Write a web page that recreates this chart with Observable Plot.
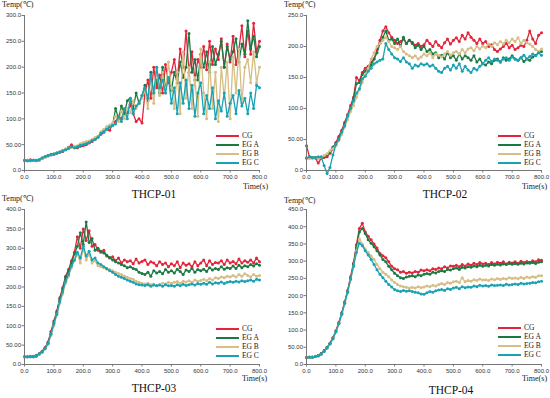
<!DOCTYPE html>
<html><head><meta charset="utf-8">
<script src="https://cdn.jsdelivr.net/npm/d3@7"></script>
<script src="https://cdn.jsdelivr.net/npm/@observablehq/plot@0.6"></script>
<style>
body{margin:0;background:#fff;}
#wrap{position:relative;width:550px;height:398px;overflow:hidden;background:#fff;}
.panel{position:absolute;}
.panel svg{overflow:visible;}
.lbl{position:absolute;font-family:"Liberation Serif","Times New Roman",serif;color:#222;white-space:nowrap;line-height:1;}
.ttl{position:absolute;font-family:"Liberation Serif","Times New Roman",serif;font-size:11.5px;font-weight:normal;color:#111;line-height:1;transform:translateX(-50%);white-space:nowrap;}
.leg{position:absolute;font-family:"Liberation Serif","Times New Roman",serif;font-size:7.5px;color:#222;line-height:1;}
.leg .row{position:absolute;left:0;height:9px;white-space:nowrap;}
.leg .sw{position:absolute;left:0;top:3.5px;width:23px;height:2px;}
.leg .tx{position:absolute;left:26px;top:0.5px;}
</style></head><body><div id="wrap"></div>
<script>
const TIME = d3.range(0, 801, 10);
const SERIES = ["CG", "EG A", "EG B", "EG C"];
const COLORS = ["#e3243b", "#1b7a43", "#d6be84", "#19a2b4"];
const X_TICKS = [0, 100, 200, 300, 400, 500, 600, 700, 800];
const TITLES = ["THCP-01", "THCP-02", "THCP-03", "THCP-04"];
const Y_MAX = [300, 250, 400, 450];

// THCP-01
const THCP01_CG = [20,20,21,20,19,20, 23,26,28,30,31, 33,35,37,40,45, 50,46,44,47,48, 50,53,56,60,65, 70,74,82,78,90, 95,105,100,118,112, 128,110,95,100,92, 150,175,140,200,160, 185,150,205,170,190, 215,175,235,200,270, 190,230,175,215,200, 240,195,250,205,235, 215,255,200,245,210, 260,205,235,280,220, 270,225,285,230,250];
const THCP01_EGA = [20,19,20,20,20,21, 24,26,29,31,32, 34,36,38,41,43, 46,44,45,48,50, 52,55,58,62,66, 72,77,80,85,88, 120,100,125,110,135, 140,120,150,130,145, 165,135,190,150,175, 150,200,160,180,155, 190,170,210,180,200, 265,190,215,175,225, 200,230,190,240,205, 225,250,200,240,215, 230,255,210,245,225, 290,235,260,220,240];
const THCP01_EGB = [20,20,19,20,20,20, 23,25,28,30,32, 34,36,39,42,44, 45,47,48,52,54, 56,57,60,64,66, 75,80,85,88,92, 105,95,115,100,120, 112,135,120,130,140, 155,120,180,130,200, 145,190,150,210,160, 120,190,110,230,140, 200,120,180,105,235, 150,100,210,120,190, 95,200,140,210,100, 220,150,235,130,200, 215,170,230,170,200];
const THCP01_EGC = [20,19,19,20,20,21, 24,27,29,31,32, 34,36,38,40,43, 46,44,46,49,50, 52,54,58,60,64, 72,75,80,84,87, 90,105,95,120,100, 140,110,125,130,145, 160,140,185,150,200, 160,175,150,180,130, 160,110,170,130,175, 120,165,105,150,170, 110,145,120,160,100, 135,115,150,105,130, 145,110,155,125,140, 110,150,120,165,160];

// THCP-02
const THCP02_CG = [40,22,21,20,12,20, 21,22,28,35,45, 55,65,78,90,105, 118,150,145,158,165, 168,175,180,195,210, 225,232,222,215,210, 205,208,212,205,210, 207,202,205,200,203, 210,205,200,208,202, 198,206,212,204,210, 214,208,218,212,222, 215,210,205,212,205, 208,200,203,195,192, 196,200,205,198,202, 195,198,202,200,210, 225,212,205,218,222];
const THCP02_EGA = [20,20,21,21,20,20, 22,25,30,38,43, 52,62,75,88,100, 115,140,142,155,160, 165,170,180,190,205, 215,225,210,212,205, 212,200,215,205,210, 205,198,202,195,200, 192,195,188,190,182, 186,180,190,182,185, 178,188,180,185,182, 178,185,175,180,172, 170,175,172,178,180, 175,182,178,180,185, 180,178,182,176,180, 178,183,186,190,192];
const THCP02_EGB = [20,20,20,21,20,21, 24,27,32,35,40, 48,58,70,82,95, 105,118,130,142,155, 165,180,190,200,205, 210,215,208,200,198, 195,200,192,188,185, 182,185,180,183,188, 185,190,182,188,186, 183,188,192,186,190, 192,188,195,190,196, 198,193,200,196,201, 198,204,200,206,203, 208,204,210,206,212, 208,214,205,210,206, 204,200,195,192,196];
const THCP02_EGC = [20,22,20,21,22,22, 8,-5,5,25,42, 50,62,72,88,100, 112,125,132,148,152, 160,165,172,175,178, 180,205,195,188,182, 180,176,182,175,172, 165,170,168,172,170, 172,168,170,165,160, 158,165,168,162,170, 165,172,160,168,162, 158,165,162,168,172, 178,182,176,180,178, 175,180,182,178,183, 180,178,182,186,180, 184,188,185,190,186];

// THCP-03
const THCP03_CG = [20,20,21,20,22,28, 34,44,58,85,112, 138,172,198,228,245, 268,290,330,300,350, 320,345,305,310,295, 290,295,280,275,278, 268,275,262,270,265, 268,260,272,262,266, 270,258,265,262,255, 265,258,262,252,260, 255,265,250,262,256, 260,252,265,255,262, 270,255,268,258,263, 262,268,258,270,262, 266,260,272,262,268, 264,270,262,275,265];
const THCP03_EGA = [20,20,20,21,23,27, 33,42,55,80,108, 135,168,195,225,240, 262,285,305,340,310, 368,315,325,295,300, 292,288,282,276,270, 265,262,258,255,250, 252,248,245,238,235, 232,238,228,242,236, 240,234,245,238,242, 236,246,240,232,244, 240,248,238,245,242, 246,240,250,244,248, 245,252,246,250,248, 254,248,256,250,255, 252,258,254,260,256];
const THCP03_EGB = [20,20,20,20,21,26, 31,40,52,75,100, 128,158,182,210,228, 250,268,285,262,300, 270,285,262,268,255, 252,250,246,245,242, 238,235,232,228,225, 222,220,215,212,210, 208,210,206,208,204, 206,210,208,212,210, 212,214,210,215,213, 216,212,218,215,217, 220,216,222,218,224, 222,226,224,228,226, 230,226,232,228,234, 230,226,232,228,230];
const THCP03_EGC = [20,20,20,20,21,27, 32,41,54,78,105, 130,162,188,215,232, 255,270,290,275,305, 280,292,270,275,262, 258,252,248,242,238, 232,228,225,222,218, 215,212,208,206,205, 204,206,202,205,203, 205,202,206,203,204, 202,206,203,207,204, 206,208,205,209,207, 210,207,212,208,211, 210,213,209,212,214, 212,215,213,216,214, 216,218,215,220,218];

// THCP-04
const THCP04_CG = [20,22,21,24,26,32, 40,50,62,78,98, 122,150,182,215,255, 295,348,395,410,385, 372,362,350,338,322, 316,310,298,285,278, 275,268,270,265,268, 266,270,268,274,272, 275,272,278,276,280, 278,284,280,286,285, 288,284,290,286,292, 288,294,290,296,292, 294,290,296,292,297, 294,298,292,297,295, 298,294,300,296,299, 297,301,298,304,303];
const THCP04_EGA = [20,21,22,23,26,31, 40,49,61,77,96, 120,148,180,212,250, 290,340,385,395,380, 362,352,342,330,318, 305,298,285,275,265, 258,252,250,254,256, 258,255,260,258,262, 264,262,268,266,270, 272,270,276,274,278, 280,276,282,280,284, 282,286,284,288,285, 288,286,290,288,291, 289,292,290,293,291, 293,291,294,292,295, 294,296,293,297,298];
const THCP04_EGB = [20,21,22,23,25,30, 38,47,59,74,94, 118,145,176,208,245, 285,330,365,350,335, 325,315,305,290,278, 268,262,255,245,238, 232,228,226,224,222, 224,222,226,223,225, 228,226,230,228,232, 235,232,238,236,240, 242,238,252,240,244, 242,246,244,248,245, 246,244,248,246,250, 247,250,248,252,250, 251,249,253,250,254, 252,255,253,258,258];
const THCP04_EGC = [20,21,21,23,25,30, 38,48,60,75,95, 118,146,178,210,248, 285,325,352,345,330, 318,305,290,275,262, 252,242,232,225,218, 214,212,215,213,214, 212,210,208,205,204, 208,212,210,214,216, 218,215,220,218,222, 224,220,226,223,225, 224,228,226,230,228, 229,227,231,229,230, 231,229,233,231,232, 234,232,236,234,235, 236,238,237,240,242];

const PANEL_SERIES = [
  [THCP01_CG, THCP01_EGA, THCP01_EGB, THCP01_EGC],
  [THCP02_CG, THCP02_EGA, THCP02_EGB, THCP02_EGC],
  [THCP03_CG, THCP03_EGA, THCP03_EGB, THCP03_EGC],
  [THCP04_CG, THCP04_EGA, THCP04_EGB, THCP04_EGC]
];

// layout (pixels)
const LAYOUT = [
  {left:0,   top:0,   ml:24, mr:16, mt:15, mb:15, temp:[2,1],    time:[243,183], title:[154,189], leg:[216,131]},
  {left:275, top:0,   ml:31, mr:9,  mt:15, mb:15, temp:[284,1],  time:[522,183], title:[445,189], leg:[498,131]},
  {left:0,   top:195, ml:24, mr:16, mt:14, mb:16, temp:[2,195],  time:[242,375], title:[154,383], leg:[216,324]},
  {left:275, top:195, ml:31, mr:9,  mt:14, mb:16, temp:[284,197],time:[522,375], title:[451,385], leg:[498,323]}
];

const wrap = document.getElementById("wrap");
const fmtY = d => d === 0 ? "0.0" : (d < 100 ? d.toFixed(2) : d.toFixed(1));
const fmtX = d => d.toFixed(1);

PANEL_SERIES.forEach((arrs, p) => {
  const L = LAYOUT[p];
  const yMax = Y_MAX[p];
  const marks = [];
  arrs.forEach((arr, k) => {
    const rows = TIME.map((t, i) => ({t, v: arr[i]}));
    marks.push(Plot.line(rows, {x: "t", y: "v", stroke: COLORS[k], strokeWidth: 1.3}));
    marks.push(Plot.dot(rows, {x: "t", y: "v", r: 1.5, fill: COLORS[k], stroke: "none"}));
  });
  const chart = Plot.plot({
    width: 275, height: 185,
    marginLeft: L.ml, marginRight: L.mr, marginTop: L.mt, marginBottom: L.mb,
    x: {domain: [0, 800]},
    y: {domain: [0, yMax]},
    style: {background: "transparent", fontFamily: "'Liberation Sans', Arial, sans-serif", fontSize: "6px", color: "#333", overflow: "visible"},
    marks: [
      Plot.axisX({ticks: X_TICKS, tickFormat: fmtX, tickSize: 2.5, tickPadding: 1.5, label: null, stroke: "#777"}),
      Plot.axisY({ticks: d3.range(0, yMax + 1, 50), tickFormat: fmtY, tickSize: 2.5, tickPadding: 1, label: null, stroke: "#777"}),
      ...marks,
      Plot.ruleX([0], {stroke: "#777", strokeWidth: 1}),
      Plot.ruleY([0], {stroke: "#777", strokeWidth: 1})
    ]
  });
  const div = document.createElement("div");
  div.className = "panel";
  div.style.left = L.left + "px";
  div.style.top = L.top + "px";
  div.appendChild(chart);
  wrap.appendChild(div);

  const temp = document.createElement("div");
  temp.className = "lbl";
  temp.style.fontSize = "8px";
  temp.style.left = L.temp[0] + "px"; temp.style.top = L.temp[1] + "px";
  temp.textContent = "Temp(℃)";
  wrap.appendChild(temp);

  const time = document.createElement("div");
  time.className = "lbl";
  time.style.fontSize = "8px";
  time.style.left = L.time[0] + "px"; time.style.top = L.time[1] + "px";
  time.textContent = "Time(s)";
  wrap.appendChild(time);

  const ttl = document.createElement("div");
  ttl.className = "ttl";
  ttl.style.left = L.title[0] + "px"; ttl.style.top = L.title[1] + "px";
  ttl.textContent = TITLES[p];
  wrap.appendChild(ttl);

  const leg = document.createElement("div");
  leg.className = "leg";
  leg.style.left = L.leg[0] + "px"; leg.style.top = L.leg[1] + "px";
  SERIES.forEach((name, k) => {
    const row = document.createElement("div");
    row.className = "row";
    row.style.top = (k * 9) + "px";
    const sw = document.createElement("div");
    sw.className = "sw"; sw.style.background = COLORS[k];
    const tx = document.createElement("div");
    tx.className = "tx"; tx.textContent = name;
    row.appendChild(sw); row.appendChild(tx);
    leg.appendChild(row);
  });
  wrap.appendChild(leg);
});
</script></body></html>
